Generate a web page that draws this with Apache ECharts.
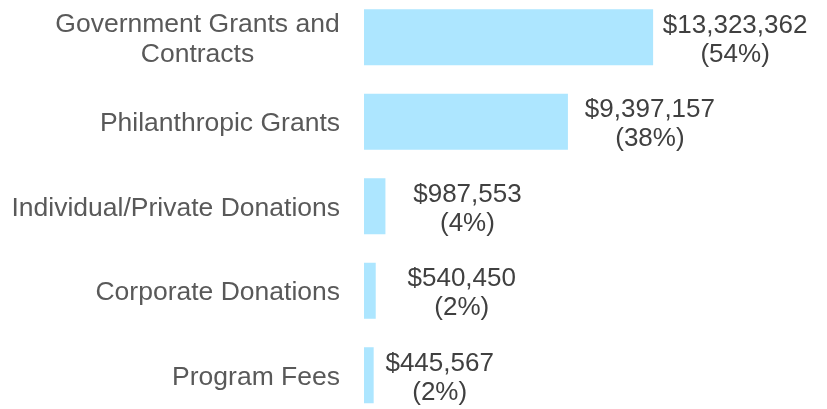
<!DOCTYPE html>
<html>
<head>
<meta charset="utf-8">
<script src="https://cdn.jsdelivr.net/npm/echarts@6/dist/echarts.min.js"></script>
<style>html,body{margin:0;padding:0;background:#fff;}#c{width:827px;height:409px;}</style>
</head>
<body>
<div id="c"></div>
<script>
const categories = ["Government Grants and Contracts", "Philanthropic Grants", "Individual/Private Donations", "Corporate Donations", "Program Fees"];
const amounts = [13323362, 9397157, 987553, 540450, 445567];
const percents = [54, 38, 4, 2, 2];

const chart = echarts.init(document.getElementById('c'));
function fmtMoney(v) { return '$' + v.toString().replace(/\B(?=(\d{3})+(?!\d))/g, ','); }
const labelDistances = [82, 82, 82, 86, 66];
const data = amounts.map((v, i) => ({ value: v, label: { distance: labelDistances[i] } }));
const FONT = 'Liberation Sans, Arial';
chart.setOption({
  animation: false,
  grid: { left: 364, top: -5, width: 434, height: 422.5, containLabel: false, outerBoundsMode: 'none' },
  xAxis: { type: 'value', min: 0, max: 20000000, show: false },
  yAxis: {
    type: 'category', data: categories, inverse: true,
    axisLine: { show: false }, axisTick: { show: false },
    axisLabel: {
      margin: 24, fontFamily: FONT, fontSize: 26.5, color: '#595959', lineHeight: 30,
      padding: [4, 0, 0, 0],
      formatter: function (v) {
        if (v === 'Government Grants and Contracts') return '{g|Government Grants and}\n{g|Contracts}';
        return v;
      },
      rich: { g: { width: 285, align: 'center', fontFamily: FONT, fontSize: 26.5, color: '#595959', lineHeight: 30 } }
    }
  },
  series: [{
    type: 'bar', data: data, barCategoryGap: '33.7%',
    itemStyle: { color: '#ade6ff' },
    label: {
      show: true, position: 'right', distance: 82, align: 'center', offset: [0, 3],
      fontFamily: FONT, fontSize: 26, color: '#404040', lineHeight: 29,
      formatter: function (p) { return fmtMoney(amounts[p.dataIndex]) + '\n(' + percents[p.dataIndex] + '%)'; }
    }
  }]
});
</script>
</body>
</html>
